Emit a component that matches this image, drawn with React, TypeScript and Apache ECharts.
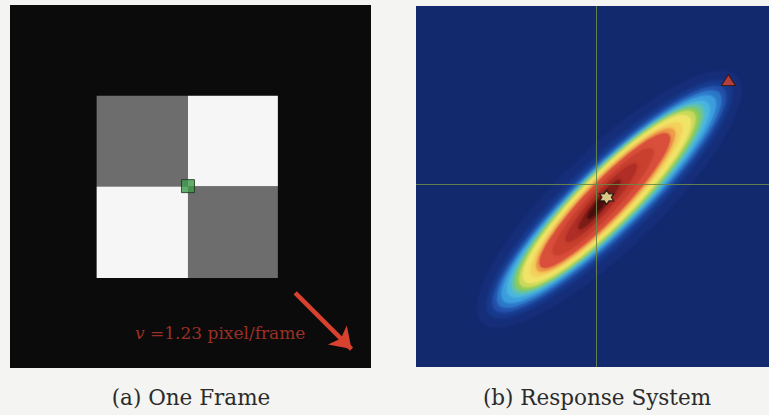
import React, { useEffect, useRef } from "react";
import * as echarts from "echarts";

// ---- Panel (a): one frame, coordinates in frame units (0..100, y downward)
const checkerCells: number[][] = [
  // x0, y0, x1, y1, shade (0 = gray, 1 = white)
  [24, 25, 49.3, 50, 0],
  [49.3, 25, 74.2, 50, 1],
  [24, 50, 49.3, 75.2, 1],
  [49.3, 50, 74.2, 75.2, 0],
];
const trackedPoint: number[][] = [[49.3, 49.9]];
const motionArrow: number[][] = [
  [79, 79.3],
  [94.6, 94.8],
];
const velocityLabel = "=1.23 pixel/frame";
const velocitySymbol = "v";

// ---- Panel (b): response system, coordinates in normalised units, crosshair at 0,0
const crosshair = { x: 0, y: 0 };
// cx, cy, semi-major, semi-minor, angle (deg), layer index
const responseLayers: number[][] = [
  [0.075, -0.08, 1.0, 0.28, 44, 0],
  [0.075, -0.08, 0.94, 0.225, 44, 1],
  [0.075, -0.08, 0.9, 0.2, 44, 2],
  [0.075, -0.08, 0.865, 0.184, 44, 3],
  [0.072, -0.08, 0.827, 0.173, 44, 4],
  [0.07, -0.08, 0.782, 0.164, 44, 5],
  [0.068, -0.08, 0.748, 0.158, 44.5, 6],
  [0.066, -0.08, 0.72, 0.152, 44.5, 7],
  [0.064, -0.08, 0.691, 0.146, 45, 8],
  [0.062, -0.08, 0.657, 0.14, 45, 9],
  [0.058, -0.082, 0.6, 0.119, 45.5, 10],
  [0.055, -0.085, 0.555, 0.109, 46, 11],
  [0.05, -0.088, 0.521, 0.103, 46, 12],
  [0.04, -0.095, 0.408, 0.079, 47, 13],
  [0.03, -0.1, 0.295, 0.054, 48, 14],
  [0.02, -0.11, 0.181, 0.031, 50, 15],
  [0.012, -0.12, 0.091, 0.017, 50, 16],
];
const responsePeak: number[][] = [[0.06, -0.07]];
const groundTruth: number[][] = [[0.75, 0.58]];

const captions = ["(a) One Frame", "(b) Response System"];

// styles
const shadeColors = ["#6d6d6d", "#f6f6f6"];
const layerColors = [
  "#152e79",
  "#19378a",
  "#204ea6",
  "#2b74c6",
  "#3a9cde",
  "#4ab5e0",
  "#5ec3b0",
  "#86c95c",
  "#c6d85a",
  "#f0e468",
  "#f3d25c",
  "#ee9f4a",
  "#d9503a",
  "#c9402f",
  "#b02e26",
  "#7e1b15",
  "#4a100c",
];

const hexagram =
  "path://M50,0 L64.5,24.9 L93.3,25 L79,50 L93.3,75 L64.5,75.1 L50,100 L35.5,75.1 L6.7,75 L21,50 L6.7,25 L35.5,24.9 Z";

export default function App() {
  const ref = useRef<HTMLDivElement>(null);
  useEffect(() => {
    if (!ref.current) return;
    const chart = echarts.init(ref.current, undefined, { renderer: "svg" });
    const option: any = {
      animation: false,
      backgroundColor: "#f4f4f2",
      grid: [
        { left: 10, top: 5, width: 361, height: 363, show: true, backgroundColor: "#0b0b0b", borderWidth: 0 },
        { left: 416, top: 6, width: 353, height: 361, show: true, backgroundColor: "#12296e", borderWidth: 0 },
      ],
      xAxis: [
        { gridIndex: 0, type: "value", min: 0, max: 100, show: false },
        { gridIndex: 1, type: "value", min: -1.02, max: 0.98, show: false },
      ],
      yAxis: [
        { gridIndex: 0, type: "value", min: 0, max: 100, inverse: true, show: false },
        { gridIndex: 1, type: "value", min: -1.01, max: 0.99, show: false },
      ],
      series: [
        {
          type: "custom",
          xAxisIndex: 0,
          yAxisIndex: 0,
          silent: true,
          data: checkerCells,
          renderItem: (params: any, api: any) => {
            const p0 = api.coord([api.value(0), api.value(1)]);
            const p1 = api.coord([api.value(2), api.value(3)]);
            return {
              type: "rect",
              shape: {
                x: Math.min(p0[0], p1[0]),
                y: Math.min(p0[1], p1[1]),
                width: Math.abs(p1[0] - p0[0]),
                height: Math.abs(p1[1] - p0[1]),
              },
              style: { fill: shadeColors[api.value(4)] },
            };
          },
        },
        {
          type: "scatter",
          xAxisIndex: 0,
          yAxisIndex: 0,
          silent: true,
          symbol: "rect",
          symbolSize: 13,
          itemStyle: { color: "#3f9a4c", borderColor: "#173317", borderWidth: 1 },
          data: trackedPoint,
          z: 5,
        },
        {
          type: "lines",
          coordinateSystem: "cartesian2d",
          xAxisIndex: 0,
          yAxisIndex: 0,
          silent: true,
          symbol: ["none", "arrow"],
          symbolSize: [18, 20],
          lineStyle: { color: "#d9412f", width: 4.5, opacity: 1 },
          data: [{ coords: motionArrow }],
          z: 5,
        },
        {
          type: "custom",
          xAxisIndex: 1,
          yAxisIndex: 1,
          silent: true,
          data: responseLayers,
          renderItem: (params: any, api: any) => {
            const c = api.coord([api.value(0), api.value(1)]);
            const rx = api.size([api.value(2), 0])[0];
            const ry = api.size([api.value(3), 0])[0];
            const idx = api.value(5);
            return {
              type: "ellipse",
              x: c[0],
              y: c[1],
              rotation: (api.value(4) * Math.PI) / 180,
              shape: { cx: 0, cy: 0, rx, ry },
              style: {
                fill: layerColors[idx],
                shadowBlur: 4,
                shadowColor: layerColors[idx],
              },
            };
          },
          z: 2,
        },
        {
          type: "scatter",
          xAxisIndex: 1,
          yAxisIndex: 1,
          silent: true,
          symbol: hexagram,
          symbolSize: 14,
          itemStyle: { color: "#fbf8a8", borderColor: "#111111", borderWidth: 1.2 },
          data: responsePeak,
          z: 6,
          markLine: {
            silent: true,
            symbol: ["none", "none"],
            label: { show: false },
            lineStyle: { color: "#6a8848", width: 1, type: "solid", opacity: 0.9 },
            data: [{ xAxis: crosshair.x }, { yAxis: crosshair.y }],
            z: 4,
          },
        },
        {
          type: "scatter",
          xAxisIndex: 1,
          yAxisIndex: 1,
          silent: true,
          symbol: "triangle",
          symbolSize: [14, 11],
          itemStyle: { color: "#d6432b", borderColor: "#3a0f0a", borderWidth: 1 },
          data: groundTruth,
          z: 6,
        },
      ],
      graphic: [
        {
          type: "text",
          left: 135,
          top: 324,
          z: 10,
          style: {
            text: "{i|" + velocitySymbol + "} " + velocityLabel,
            fill: "#9a3026",
            font: "17px 'DejaVu Serif'",
            rich: {
              i: { fontStyle: "italic", fontFamily: "DejaVu Serif", fontSize: 17, fill: "#9a3026" },
            },
          },
        },
        {
          type: "text",
          x: 191,
          y: 397,
          style: {
            text: captions[0],
            fill: "#2b2b2b",
            font: "21.5px 'DejaVu Serif'",
            align: "center",
            verticalAlign: "middle",
          },
        },
        {
          type: "text",
          x: 597,
          y: 397,
          style: {
            text: captions[1],
            fill: "#2b2b2b",
            font: "21.5px 'DejaVu Serif'",
            align: "center",
            verticalAlign: "middle",
          },
        },
      ],
    };
    chart.setOption(option);
    return () => chart.dispose();
  }, []);
  return (
    <div
      ref={ref}
      style={{ position: "fixed", left: 0, top: 0, width: 769, height: 415 }}
    />
  );
}
